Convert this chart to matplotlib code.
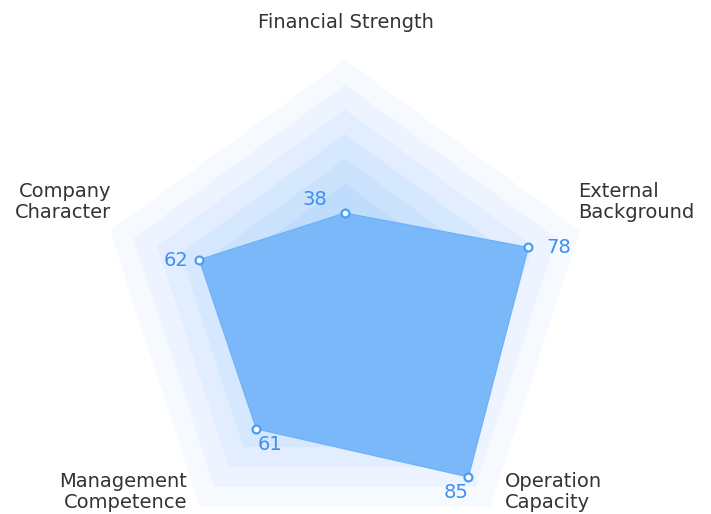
import numpy as np
import matplotlib.pyplot as plt
from matplotlib.patches import Polygon

# radar indicators, clockwise from top
indicators = ['Financial Strength', 'External\nBackground', 'Operation\nCapacity',
              'Management\nCompetence', 'Company\nCharacter']
values = [38, 78, 85, 61, 62]
max_value = 100
split_number = 10

# split area colours, outermost first
ring_colors = ['#f6faff', '#edf4ff', '#e2eeff', '#d6e8fe', '#cbe2fd',
               '#c0dcfc', '#b6d7fc', '#acd2fb', '#a2cdfb', '#98c8fa']

cx, cy, R = 345, 307, 247

def radar_xy(v, i):
    ang = np.pi / 2 - 2 * np.pi * i / len(indicators)
    r = R * v / max_value
    return cx + r * np.cos(ang), cy - r * np.sin(ang)

fig = plt.figure(figsize=(7.11, 5.14), dpi=100)
ax = fig.add_axes([0, 0, 1, 1])
ax.set_xlim(0, 711)
ax.set_ylim(514, 0)
ax.axis('off')

# split areas
for k in range(split_number):
    frac = max_value * (split_number - k) / split_number
    pts = [radar_xy(frac, i) for i in range(len(indicators))]
    ax.add_patch(Polygon(pts, closed=True, facecolor=ring_colors[k], edgecolor='none'))

# data area
pts = [radar_xy(v, i) for i, v in enumerate(values)]
ax.add_patch(Polygon(pts, closed=True, facecolor='#7ab8fa', edgecolor='#70b2f9', lw=1))
xs = [p[0] for p in pts]
ys = [p[1] for p in pts]
ax.scatter(xs, ys, s=32, facecolor='white', edgecolor='#4a9cf5', linewidth=1.6, zorder=5)

# value labels
label_off = [(-30, -14, 'center'), (18, 0, 'left'), (-12, 16, 'center'),
             (14, 16, 'center'), (-23, 1, 'center')]
for (x, y), v, (dx, dy, ha) in zip(pts, values, label_off):
    ax.text(x + dx, y + dy, str(v), color='#3d8ff0', fontsize=14,
            ha=ha, va='center')

# indicator names
name_pos = [(346, 22, 'center'), (578, 202, 'left'), (505, 492, 'left'),
            (187, 492, 'right'), (111, 202, 'right')]
for name, (x, y, ha) in zip(indicators, name_pos):
    ax.text(x, y, name, color='#333333', fontsize=14, ha=ha, va='center',
            multialignment=ha, linespacing=1.12)

plt.savefig('out.png', dpi=100)
